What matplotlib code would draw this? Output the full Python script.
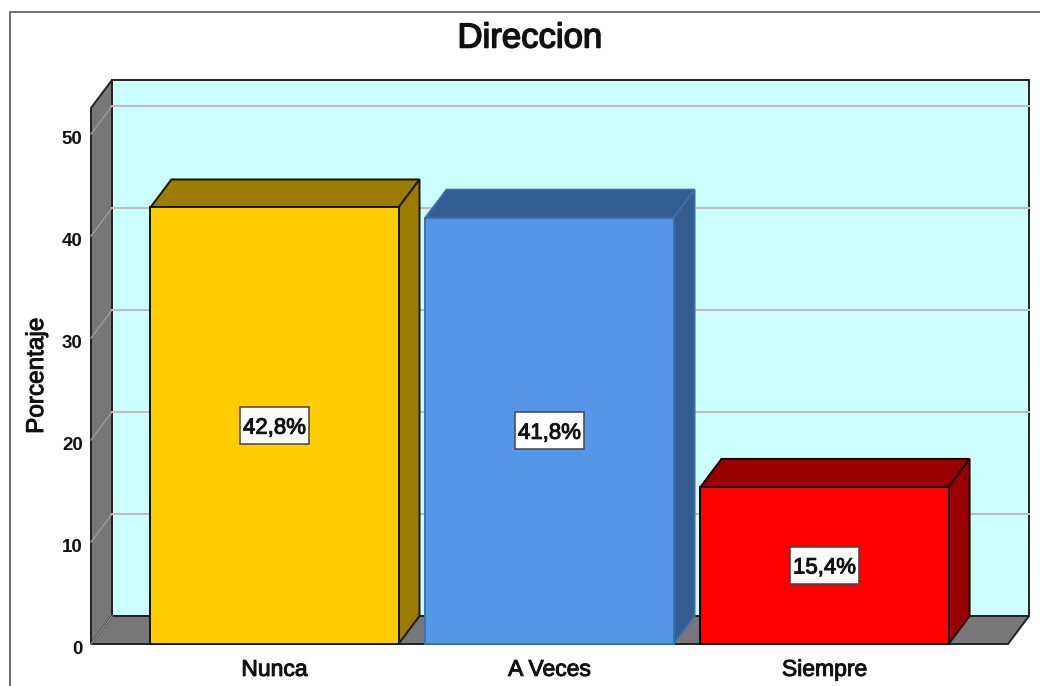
# -*- coding: utf-8 -*-
import matplotlib
matplotlib.use('Agg')
import matplotlib.pyplot as plt
import matplotlib.patheffects as pe
from matplotlib.patches import Polygon, Rectangle
from matplotlib.transforms import ScaledTranslation

## DADOS
categorias = ['Nunca', 'A Veces', 'Siempre']
valores = [42.8, 41.8, 15.4]
rotulos = ['42,8%', '41,8%', '15,4%']
ticks_y = [0, 10, 20, 30, 40, 50]

cores_frente = ['#FFCC00', '#5596E6', '#FF0000']
cores_lado = ['#9C7C00', '#335C91', '#990000']
cores_borda = ['#1A1400', '#3F6FA8', '#1A0000']

plt.rcParams['font.family'] = ['Liberation Sans', 'DejaVu Sans']

fig = plt.figure(figsize=(10.4, 6.86), dpi=100)
ax = fig.add_axes([91 / 1040, (686 - 644) / 686, (1008 - 91) / 1040, (644 - 108) / 686])

x_esq, x_dir = -0.667, 2.667
y_max = 52.55
larg = 0.902
dx, dy = 0.0764, 2.745   # profundidade do efeito 3D, em unidades dos eixos
ax.set_xlim(x_esq, x_dir)
ax.set_ylim(0, y_max)
for lado in ax.spines.values():
    lado.set_visible(False)
ax.patch.set_visible(False)

# negrito "falso" da fonte original: fonte normal com contorno
negrito = [pe.withStroke(linewidth=0.7, foreground='#111111')]


def poligono(pontos, cor, borda='#222222', lw=1.4, z=1):
    ax.add_patch(Polygon(pontos, closed=True, facecolor=cor, edgecolor=borda,
                         linewidth=lw, zorder=z, clip_on=False, joinstyle='miter'))


## Paredes e piso
poligono([(x_esq + dx, dy), (x_dir + dx, dy), (x_dir + dx, y_max + dy), (x_esq + dx, y_max + dy)], '#CCFFFF')
poligono([(x_esq, 0), (x_esq + dx, dy), (x_esq + dx, y_max + dy), (x_esq, y_max)], '#777777')
poligono([(x_esq, 0), (x_dir, 0), (x_dir + dx, dy), (x_esq + dx, dy)], '#777777')

## Linhas de grade
for t in ticks_y:
    ax.plot([x_esq, x_esq + dx], [t, t + dy], color='#A0A0A0', lw=0.9, zorder=2, clip_on=False)
    if t > 0:
        ax.plot([x_esq + dx, x_dir + dx], [t + dy, t + dy], color='#BDBDBD', lw=1.5,
                zorder=2, clip_on=False)

## Barras
posicoes = list(range(len(categorias)))
for i, v in enumerate(valores):
    e = i - larg / 2
    d = i + larg / 2
    poligono([(e, v), (d, v), (d + dx, v + dy), (e + dx, v + dy)], cores_lado[i], cores_borda[i], z=3)
    poligono([(d, 0), (d + dx, dy), (d + dx, v + dy), (d, v)], cores_lado[i], cores_borda[i], z=3)
ax.bar(posicoes, valores, width=larg, color=cores_frente, edgecolor=cores_borda, linewidth=1.4,
       zorder=4, clip_on=False)

## Rotulos das barras
caixa_l, caixa_a = 0.251, 3.63
for i, v in enumerate(valores):
    ax.add_patch(Rectangle((i - caixa_l / 2, v / 2 - caixa_a / 2), caixa_l, caixa_a, facecolor='white',
                           edgecolor='#444444', linewidth=1.1, zorder=5))
    ax.text(i, v / 2, rotulos[i], ha='center', va='center_baseline', fontsize=16, color='#111111', zorder=6,
            path_effects=negrito)

## Eixos e textos
ax.set_xticks(posicoes)
ax.set_xticklabels(categorias, fontsize=16.5, color='#111111', path_effects=negrito)
ax.set_yticks(ticks_y)
ax.set_yticklabels([str(t) for t in ticks_y], fontsize=13.5, fontweight='bold', color='#111111')
ax.tick_params(axis='x', length=0, pad=10)
ax.tick_params(axis='y', length=0, pad=6)
desce = ScaledTranslation(0, -3 / 100, fig.dpi_scale_trans)
for rotulo in ax.get_yticklabels():
    rotulo.set_transform(rotulo.get_transform() + desce)
ax.set_ylabel('Porcentaje', fontsize=17.5, color='#111111', labelpad=10, path_effects=negrito)
fig.text(530 / 1040, 1 - 38 / 686, 'Direccion', ha='center', va='center', fontsize=25, color='#111111',
         path_effects=[pe.withStroke(linewidth=1.1, foreground='#111111')])

## Moldura
fig.add_artist(plt.Line2D([10 / 1040, 10 / 1040, 1], [0, 1 - 12 / 686, 1 - 12 / 686],
                          color='#555555', lw=1.2, transform=fig.transFigure))

plt.savefig('out.png', dpi=100)
